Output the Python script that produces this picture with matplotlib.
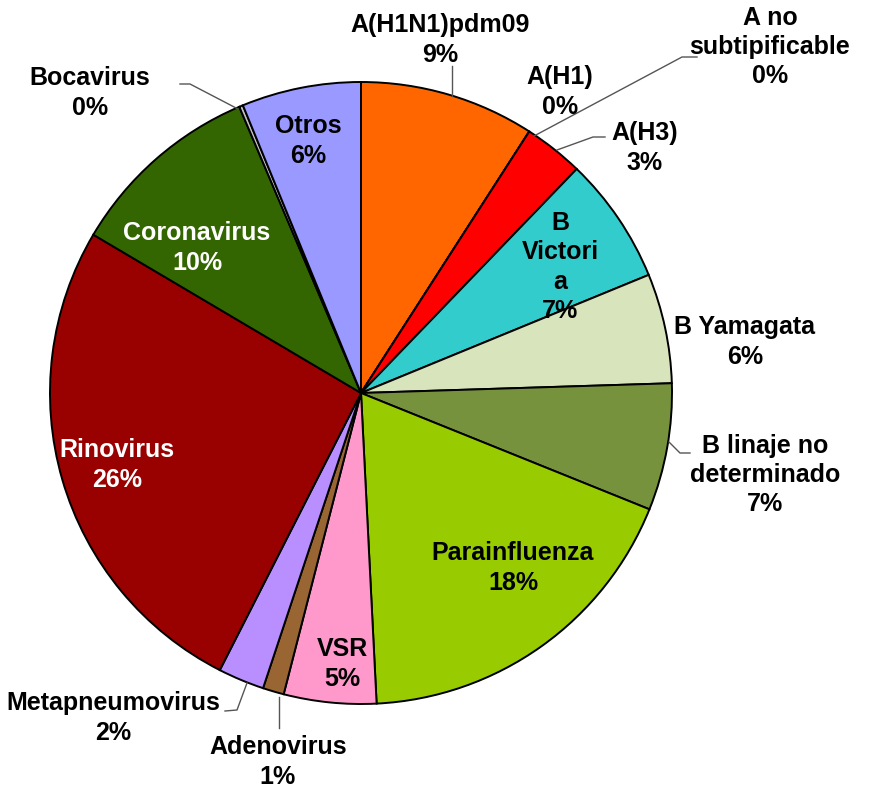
import numpy as np
import matplotlib.pyplot as plt

plt.rcParams['font.family'] = ['Liberation Sans', 'DejaVu Sans']

# datos (porcentaje de cada virus)
virus = ['A(H1N1)pdm09', 'A(H1)', 'A no\nsubtipificable', 'A(H3)', 'B\nVictori\na',
         'B Yamagata', 'B linaje no\ndeterminado', 'Parainfluenza', 'VSR', 'Adenovirus',
         'Metapneumovirus', 'Rinovirus', 'Coronavirus', 'Bocavirus', 'Otros']
valores = [9.1, 0.0, 0.0, 3.1, 6.6, 5.7, 6.6, 18.1, 4.8, 1.1, 2.4, 26.0, 10.1, 0.2, 6.2]
colores = ['#FF6600', '#3366FF', '#CC3300', '#FF0000', '#33CCCC', '#D8E4BC', '#76923C',
           '#99CC00', '#FF99CC', '#996633', '#B98FFF', '#990000', '#336600', '#C0C0C0',
           '#9999FF']

W, H = 873, 793
CX, CY, R = 361, 393, 311

def P(x, y):
    # pixel -> datos
    return ((x - CX) / R, (CY - y) / R)

fig = plt.figure(figsize=(W / 100, H / 100), dpi=100)
ax = fig.add_axes([0, 0, 1, 1])
ax.pie(valores, colors=colores, startangle=90, counterclock=False, radius=1,
       wedgeprops=dict(edgecolor='black', linewidth=1.4))
ax.set_xlim(-CX / R, (W - CX) / R)
ax.set_ylim(-(H - CY) / R, CY / R)
ax.set_aspect('equal')
ax.axis('off')

total = sum(valores)
pct = ['%d%%' % round(v / total * 100) for v in valores]

# posicion del centro de cada etiqueta (pixeles)
pos = [(440, 40), (560, 92), (770, 47), (645, 148), (560, 267),
       (745, 342), (765, 475), (513, 568), (342, 664), (278, 762),
       (113, 718), (117, 465), (197, 248), (90, 93), (308, 141)]
blancos = ['Rinovirus', 'Coronavirus']

for nombre, p, (x, y) in zip(virus, pct, pos):
    c = 'white' if nombre in blancos else 'black'
    tx, ty = P(x, y)
    ax.text(tx, ty, nombre + '\n' + p, ha='center', va='center', fontsize=18,
            fontweight='bold', color=c, linespacing=1.28)

# lineas guia
guias = [
    [(452, 96), (452, 66)],
    [(534, 136), (682, 57), (697, 57)],
    [(557, 150), (593, 137), (605, 137)],
    [(669, 442), (680, 453), (690, 453)],
    [(279, 697), (279, 728)],
    [(247, 683), (237, 710), (225, 711)],
    [(238, 109), (190, 84), (180, 84)],
]
for g in guias:
    pts = np.array([P(x, y) for x, y in g])
    ax.plot(pts[:, 0], pts[:, 1], color='#555555', lw=1)

fig.savefig('out.png', dpi=100)
